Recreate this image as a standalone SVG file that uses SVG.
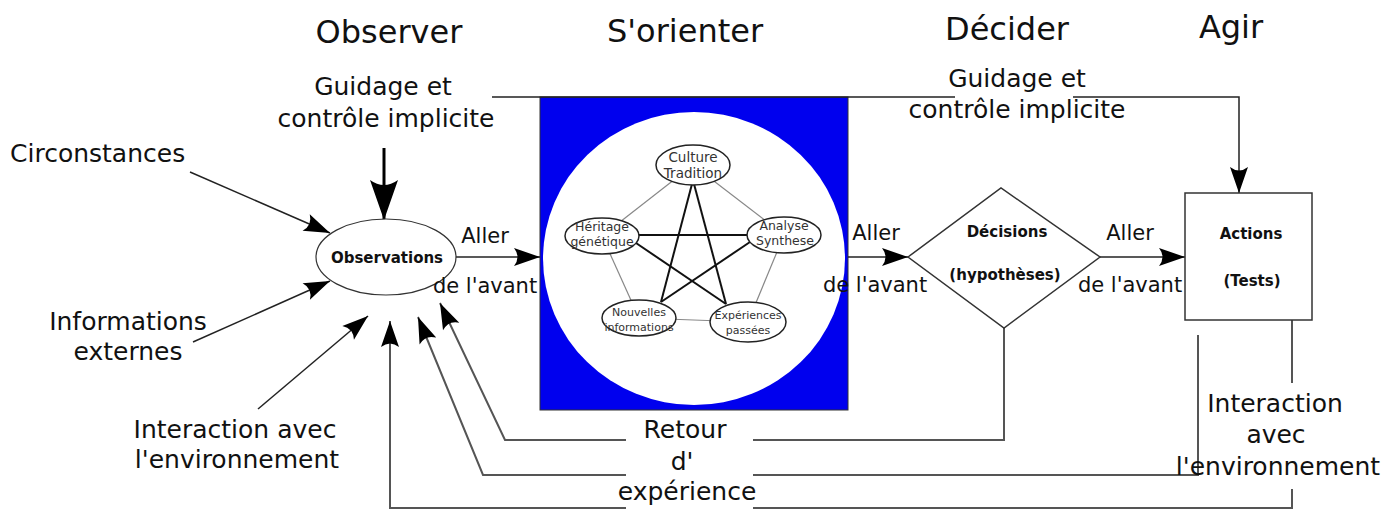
<svg xmlns="http://www.w3.org/2000/svg" width="1399" height="509" viewBox="0 0 1399 509">
<style>
text{font-family:"DejaVu Sans","Liberation Sans",sans-serif;fill:#111}
.title{font-size:32px;text-anchor:middle}
.lbl{font-size:25px;text-anchor:middle}
.al{font-size:21px;text-anchor:middle}
.bd{font-size:15px;font-weight:bold;text-anchor:middle}
.sm{font-size:13.5px;text-anchor:middle;fill:#333}
.xs{font-size:11px;text-anchor:middle;fill:#333}
.conn{fill:none;stroke:#222;stroke-width:1.5}
.fb{fill:none;stroke:#555;stroke-width:2}
.edge{stroke:#888;stroke-width:1.2}
.star{stroke:#111;stroke-width:2}
.pn{fill:#fff;stroke:#222;stroke-width:1.5}
</style>
<defs>
<marker id="ah" markerUnits="userSpaceOnUse" viewBox="0 0 30 20" markerWidth="30" markerHeight="20" refX="28" refY="10" orient="auto">
<path d="M28,10 L2,1 Q9,10 2,19 Z" fill="#000"/>
</marker>
<marker id="ahb" markerUnits="userSpaceOnUse" viewBox="0 0 44 30" markerWidth="44" markerHeight="30" refX="42" refY="15" orient="auto">
<path d="M42,15 L2,1 Q12,15 2,29 Z" fill="#000"/>
</marker>
</defs>

<g id="titles">
<text class="title" x="389" y="43">Observer</text>
<text class="title" x="685" y="42">S'orienter</text>
<text class="title" x="1007" y="40">Décider</text>
<text class="title" x="1231" y="38">Agir</text>
</g>

<g id="orient-panel">
<rect x="540" y="97" width="308" height="313" fill="#0000ee" stroke="#333" stroke-width="1"/>
<ellipse cx="694" cy="258.5" rx="151" ry="146.5" fill="#fff"/>
<g id="pentagon-links">
<line class="edge" x1="693" y1="165" x2="602" y2="236"/>
<line class="edge" x1="693" y1="165" x2="784" y2="235"/>
<line class="edge" x1="602" y1="236" x2="639" y2="318"/>
<line class="edge" x1="784" y1="235" x2="748" y2="322"/>
<line class="edge" x1="639" y1="318" x2="748" y2="322"/>
<line class="star" x1="692" y1="184" x2="661" y2="302"/>
<line class="star" x1="694" y1="184" x2="726" y2="304"/>
<line class="star" x1="639" y1="235" x2="748" y2="235"/>
<line class="star" x1="636" y1="243" x2="726" y2="304"/>
<line class="star" x1="750" y1="242" x2="661" y2="302"/>
</g>
<g id="culture">
<ellipse class="pn" cx="693" cy="165" rx="37" ry="20"/>
<text class="sm" x="693" y="162">Culture</text>
<text class="sm" x="693" y="178">Tradition</text>
</g>
<g id="heritage">
<ellipse class="pn" cx="602" cy="236" rx="37" ry="18"/>
<text class="sm" x="602" y="231" style="font-size:12.5px">Héritage</text>
<text class="sm" x="602" y="246" style="font-size:12.5px">génétique</text>
</g>
<g id="analyse">
<ellipse class="pn" cx="784" cy="235" rx="37" ry="18"/>
<text class="sm" x="784" y="230" style="font-size:12.5px">Analyse</text>
<text class="sm" x="785" y="245" style="font-size:12.5px">Synthese</text>
</g>
<g id="nouvelles">
<ellipse class="pn" cx="639" cy="318" rx="37" ry="18"/>
<text class="xs" x="639" y="316">Nouvelles</text>
<text class="xs" x="639" y="331">informations</text>
</g>
<g id="experiences">
<ellipse class="pn" cx="748" cy="322" rx="38" ry="20"/>
<text class="xs" x="748" y="319">Expériences</text>
<text class="xs" x="748" y="334">passées</text>
</g>
</g>

<g id="connectors">
<path class="conn" d="M492,97 H955 M1073,97 H1239 V193" marker-end="url(#ah)"/>
<path d="M384,148 V220" fill="none" stroke="#000" stroke-width="3" marker-end="url(#ahb)"/>
<path class="conn" d="M190,172 L330,233" marker-end="url(#ah)"/>
<path class="conn" d="M193,342 L330,281" marker-end="url(#ah)"/>
<path class="conn" d="M258,409 L368,316" marker-end="url(#ah)"/>
<path class="conn" d="M455,257 H540" marker-end="url(#ah)"/>
<path class="conn" d="M848,257 H908" marker-end="url(#ah)"/>
<path class="conn" d="M1100,257 H1185" marker-end="url(#ah)"/>
<path class="fb" d="M1004,328 V440 H505 L440,303" marker-end="url(#ah)"/>
<path class="fb" d="M1198,335 V475 H483 L418,317" marker-end="url(#ah)"/>
<path class="fb" d="M1292,320 V508 H390 V321" marker-end="url(#ah)"/>
</g>

<g id="observations">
<ellipse cx="386" cy="257" rx="70" ry="38" fill="#fff" stroke="#333" stroke-width="1.2"/>
<text class="bd" x="387" y="263">Observations</text>
</g>

<g id="decisions">
<polygon points="908,257 1001,188 1100,257 1004,328" fill="#fff" stroke="#333" stroke-width="1.5"/>
<text class="bd" x="1007" y="237">Décisions</text>
<text class="bd" x="1005" y="280">(hypothèses)</text>
</g>

<g id="actions">
<rect x="1185" y="193" width="127" height="127" fill="#fff" stroke="#333" stroke-width="1.5"/>
<text class="bd" x="1251" y="239">Actions</text>
<text class="bd" x="1252" y="286">(Tests)</text>
</g>

<g id="labels">
<text class="lbl" x="383" y="95">Guidage et</text>
<text class="lbl" x="386" y="127">contrôle implicite</text>
<text class="lbl" x="1017" y="87">Guidage et</text>
<text class="lbl" x="1017" y="118">contrôle implicite</text>
<text class="lbl" x="10" y="162" style="text-anchor:start">Circonstances</text>
<text class="lbl" x="128" y="330">Informations</text>
<text class="lbl" x="128" y="360">externes</text>
<text class="lbl" x="235" y="438">Interaction avec</text>
<text class="lbl" x="237" y="468">l'environnement</text>
<text class="al" x="485" y="243">Aller</text>
<text class="al" x="485" y="293">de l'avant</text>
<text class="al" x="876" y="240">Aller</text>
<text class="al" x="875" y="292">de l'avant</text>
<text class="al" x="1130" y="240">Aller</text>
<text class="al" x="1130" y="292">de l'avant</text>
</g>

<g id="retour">
<rect x="626" y="418" width="127" height="91" fill="#fff"/>
<text class="lbl" x="685" y="438">Retour</text>
<text class="lbl" x="682" y="470">d'</text>
<text class="lbl" x="687" y="500">expérience</text>
</g>

<g id="interaction-env">
<rect x="1210" y="383" width="175" height="106" fill="#fff"/>
<text class="lbl" x="1275" y="412">Interaction</text>
<text class="lbl" x="1276" y="443">avec</text>
<text class="lbl" x="1278" y="475">l'environnement</text>
</g>
</svg>
